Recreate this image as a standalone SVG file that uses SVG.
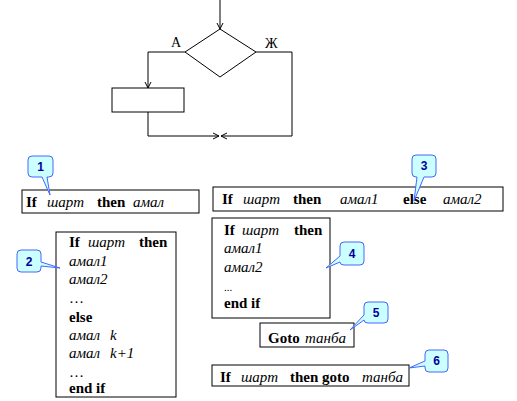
<svg xmlns="http://www.w3.org/2000/svg" width="517" height="401" viewBox="0 0 517 401">
<style>
.ln{fill:none;stroke:#000;stroke-width:1}
.box{fill:#fff;stroke:#000;stroke-width:1}
.t{font-family:"Liberation Serif","Times New Roman",serif;font-size:15px;fill:#000}
.b{font-weight:bold}
.i{font-style:italic}
.lbl{font-family:"Liberation Serif","Times New Roman",serif;font-size:14px;fill:#000}
.co{fill:#ccffff;stroke:#4466ff;stroke-width:1;stroke-linejoin:round}
.cn{font-family:"Liberation Sans",Arial,sans-serif;font-size:12px;font-weight:bold;fill:#000099;text-anchor:middle}
</style>
<defs>
<marker id="ar" viewBox="0 0 8 8" refX="7" refY="4" markerWidth="8" markerHeight="8" markerUnits="userSpaceOnUse" orient="auto">
<path d="M1,1 L7,4 L1,7" fill="none" stroke="#000" stroke-width="1"/>
</marker>
</defs>

<g id="flowchart">
<g id="decision"><polygon class="box" points="220,29 256,52 220,77 185,52"/></g>
<g id="process"><rect class="box" x="112" y="88" width="72" height="24"/></g>
<g id="connectors">
<line class="ln" x1="220" y1="0" x2="220" y2="29" marker-end="url(#ar)"/>
<polyline class="ln" points="185,52 148,52 148,88" marker-end="url(#ar)"/>
<polyline class="ln" points="148,112 148,136 219,136" marker-end="url(#ar)"/>
<polyline class="ln" points="256,52 292,52 292,136 221,136" marker-end="url(#ar)"/>
</g>
<text class="lbl" x="171" y="47">А</text>
<text class="lbl" x="265" y="48">Ж</text>
</g>

<g id="box1">
<rect class="box" x="22" y="190" width="177" height="23"/>
<text class="t" y="207"><tspan class="b" x="26">If</tspan><tspan class="i" x="47">шарт</tspan><tspan class="b" x="97">then</tspan><tspan class="i" x="133">амал</tspan></text>
</g>

<g id="box3">
<rect class="box" x="213" y="187" width="290" height="24"/>
<text class="t" y="204"><tspan class="b" x="222">If</tspan><tspan class="i" x="243">шарт</tspan><tspan class="b" x="293">then</tspan><tspan class="i" x="340">амал1</tspan><tspan class="b" x="403">else</tspan><tspan class="i" x="443">амал2</tspan></text>
</g>

<g id="box2">
<rect class="box" x="56" y="232" width="120" height="165"/>
<text class="t" y="247"><tspan class="b" x="69">If</tspan><tspan class="i" x="88">шарт</tspan><tspan class="b" x="139">then</tspan></text>
<text class="t i" x="69" y="266">амал1</text>
<text class="t i" x="69" y="284">амал2</text>
<text class="t" x="69" y="303">…</text>
<text class="t b" x="69" y="322">else</text>
<text class="t i" y="340"><tspan x="69">амал</tspan><tspan x="110">k</tspan></text>
<text class="t i" y="358"><tspan x="69">амал</tspan><tspan x="110">k+1</tspan></text>
<text class="t" x="69" y="377">…</text>
<text class="t b" x="69" y="393">end if</text>
</g>

<g id="box4">
<rect class="box" x="212" y="218" width="118" height="100"/>
<text class="t" y="235"><tspan class="b" x="224">If</tspan><tspan class="i" x="242">шарт</tspan><tspan class="b" x="294">then</tspan></text>
<text class="t i" x="224" y="253">амал1</text>
<text class="t i" x="224" y="272">амал2</text>
<text class="t" x="224" y="291" style="font-size:11px">...</text>
<text class="t b" x="224" y="308">end if</text>
</g>

<g id="box5">
<rect class="box" x="260" y="323" width="94" height="24"/>
<text class="t" y="343"><tspan class="b" x="268">Goto</tspan><tspan class="i" x="305">танба</tspan></text>
</g>

<g id="box6">
<rect class="box" x="212" y="365" width="197" height="21"/>
<text class="t" y="382"><tspan class="b" x="220">If</tspan><tspan class="i" x="241">шарт</tspan><tspan class="b" x="290">then goto</tspan><tspan class="i" x="362">танба</tspan></text>
</g>

<g id="callout1">
<path class="co" d="M32,156 H49 Q53,156 53,160 V173 Q53,177 49,177 H47 L50,195 L42,177 H32 Q28,177 28,173 V160 Q28,156 32,156 Z"/>
<text class="cn" x="40.5" y="171">1</text>
</g>
<g id="callout2">
<path class="co" d="M21,250 H37 Q41,250 41,254 V262 L60,268 L41,266 V268 Q41,272 37,272 H21 Q17,272 17,268 V254 Q17,250 21,250 Z"/>
<text class="cn" x="29" y="266">2</text>
</g>
<g id="callout3">
<path class="co" d="M416,155 H432 Q436,155 436,159 V173 Q436,177 432,177 H424 L414,201 L417,177 H416 Q412,177 412,173 V159 Q412,155 416,155 Z"/>
<text class="cn" x="424" y="170">3</text>
</g>
<g id="callout4">
<path class="co" d="M344,242 H360 Q364,242 364,246 V261 Q364,265 360,265 H344 Q340,265 340,262 L326,268 L340,256 V246 Q340,242 344,242 Z"/>
<text class="cn" x="352" y="258">4</text>
</g>
<g id="callout5">
<path class="co" d="M368,302 H384 Q388,302 388,306 V319 Q388,323 384,323 H368 Q364,323 364,320 L350,330 L364,315 V306 Q364,302 368,302 Z"/>
<text class="cn" x="376" y="317">5</text>
</g>
<g id="callout6">
<path class="co" d="M429,350 H444 Q448,350 448,354 V368 Q448,372 444,372 H429 Q425,372 425,368 V366 L409,368 L425,361 V354 Q425,350 429,350 Z"/>
<text class="cn" x="436.5" y="365">6</text>
</g>
</svg>
